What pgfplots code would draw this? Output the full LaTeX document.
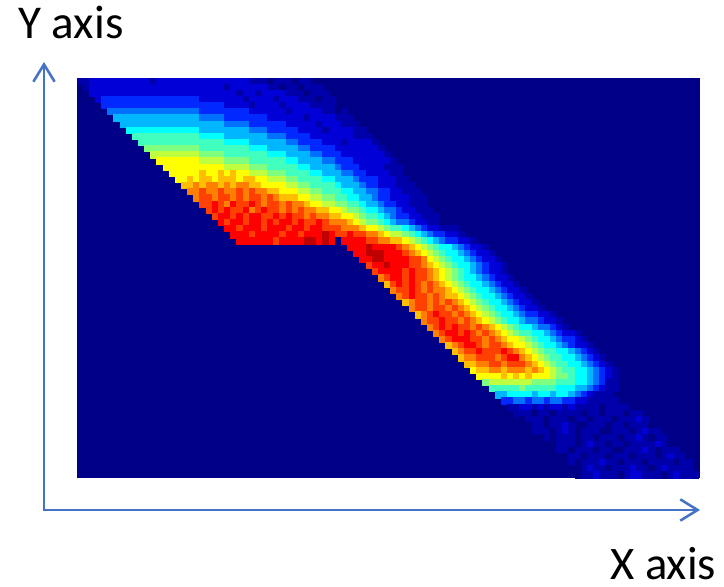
\documentclass[border=0pt]{standalone}
\usepackage{pgfplots}
\pgfplotsset{compat=1.18}
\usepackage{fontspec}
\setmainfont{Carlito}
\usetikzlibrary{arrows.meta}
\definecolor{axblue}{RGB}{68,114,196}
\definecolor{bgnavy}{RGB}{0,0,135}
\newcommand\R[3]{\addplot[cell] table[row sep=\\,header=false,x expr=\coordindex+#2,y expr=#1,meta index=0]{#3};}
\begin{document}
\begin{tikzpicture}[x=0.75pt,y=0.75pt]
\path[use as bounding box] (0,0) rectangle (724,586);
\begin{axis}[
  at={(57.75pt,81pt)},anchor=south west,
  scale only axis,width=467.25pt,height=300pt,
  xmin=-0.5,xmax=100.8,ymin=-0.5,ymax=64.5,y dir=reverse,
  ticks=none,axis line style={draw=none},
  axis background/.style={fill=bgnavy},
  clip marker paths=true,
  colormap={myjet}{rgb255(0)=(0,0,135) rgb255(1)=(0,0,170) rgb255(2)=(0,0,215) rgb255(3)=(0,40,255) rgb255(6)=(0,255,255) rgb255(10)=(255,255,0) rgb255(14)=(255,0,0) rgb255(16)=(128,0,0)},
  point meta min=0,point meta max=16,
  cell/.style={only marks,scatter,mark=square*,mark size=2.34pt,point meta=explicit,
    mark options={line width=0pt},
    scatter/use mapped color={draw=mapped color,fill=mapped color}},
]
\R{0}{0}{1\\1\\2\\2\\2\\2\\2\\2\\2\\2\\2\\2\\1\\2\\2\\2\\2\\2\\2\\2\\2\\2\\2\\2\\2\\2\\2\\2\\1\\1\\1\\0\\1\\1\\1\\0\\1\\1\\}
\R{1}{1}{1\\2\\2\\2\\2\\2\\2\\2\\2\\2\\2\\2\\2\\2\\2\\2\\2\\2\\2\\2\\2\\2\\2\\1\\2\\2\\2\\2\\2\\2\\1\\1\\0\\1\\1\\0\\1\\1\\1\\}
\R{2}{2}{2\\2\\2\\2\\2\\2\\2\\2\\2\\2\\2\\2\\2\\2\\2\\2\\2\\2\\2\\2\\2\\2\\2\\2\\1\\2\\2\\1\\2\\2\\2\\2\\1\\1\\1\\0\\1\\1\\1\\}
\R{3}{3}{2\\3\\3\\3\\3\\3\\3\\3\\3\\3\\3\\3\\3\\3\\3\\3\\3\\2\\2\\2\\2\\2\\2\\2\\1\\2\\2\\2\\2\\1\\2\\2\\2\\1\\1\\1\\0\\1\\1\\}
\R{4}{4}{3\\3\\3\\3\\3\\3\\3\\3\\3\\3\\3\\3\\3\\3\\3\\3\\3\\3\\3\\3\\2\\2\\2\\2\\1\\2\\2\\2\\2\\1\\2\\2\\2\\2\\1\\1\\1\\1\\0\\}
\R{5}{5}{4\\4\\4\\4\\4\\4\\4\\4\\4\\4\\4\\4\\4\\4\\4\\3\\3\\3\\3\\3\\3\\3\\3\\2\\2\\2\\2\\2\\2\\1\\2\\2\\2\\2\\2\\1\\1\\0\\1\\}
\R{6}{6}{5\\5\\5\\5\\5\\5\\5\\5\\5\\5\\5\\5\\5\\5\\4\\4\\4\\4\\3\\3\\3\\3\\3\\3\\3\\2\\2\\2\\2\\2\\2\\1\\2\\2\\2\\2\\1\\1\\1\\}
\R{7}{7}{5\\5\\5\\5\\5\\5\\5\\5\\5\\5\\5\\5\\5\\5\\5\\5\\5\\4\\4\\4\\4\\3\\3\\3\\3\\3\\3\\2\\2\\2\\2\\2\\1\\2\\2\\2\\1\\1\\1\\}
\R{8}{8}{6\\6\\6\\6\\6\\6\\6\\6\\6\\6\\6\\6\\5\\5\\5\\5\\5\\5\\5\\5\\4\\4\\4\\3\\3\\3\\3\\3\\2\\2\\2\\2\\1\\2\\2\\2\\2\\1\\1\\}
\R{9}{9}{7\\7\\7\\7\\7\\7\\7\\7\\7\\7\\7\\6\\6\\6\\6\\5\\5\\5\\5\\5\\5\\5\\4\\4\\4\\3\\3\\3\\3\\2\\2\\2\\2\\2\\2\\2\\1\\1\\1\\}
\R{10}{10}{7\\7\\7\\7\\7\\7\\7\\7\\7\\7\\7\\7\\7\\7\\6\\6\\6\\6\\5\\5\\5\\5\\5\\5\\4\\4\\3\\3\\3\\3\\2\\2\\2\\1\\2\\2\\2\\2\\1\\}
\R{11}{11}{8\\8\\8\\8\\8\\8\\8\\8\\8\\7\\7\\7\\7\\7\\7\\7\\7\\6\\6\\6\\5\\5\\5\\5\\5\\4\\4\\3\\3\\3\\3\\2\\2\\2\\2\\2\\2\\2\\1\\}
\R{12}{12}{9\\9\\9\\9\\9\\9\\9\\9\\8\\8\\8\\8\\7\\7\\7\\7\\7\\7\\7\\6\\6\\6\\5\\5\\5\\5\\4\\4\\3\\3\\3\\2\\2\\2\\2\\2\\2\\2\\1\\}
\R{13}{13}{10\\10\\10\\10\\10\\10\\10\\9\\9\\9\\9\\8\\8\\8\\8\\7\\7\\7\\7\\7\\7\\6\\6\\5\\5\\5\\5\\4\\4\\3\\3\\3\\2\\2\\2\\2\\2\\2\\1\\}
\R{14}{14}{10\\10\\10\\10\\10\\10\\10\\10\\10\\10\\9\\9\\9\\9\\8\\8\\8\\7\\7\\7\\7\\7\\6\\6\\5\\5\\5\\5\\4\\3\\3\\3\\2\\2\\2\\2\\1\\1\\1\\}
\R{15}{15}{10\\10\\10\\10\\10\\11\\10\\10\\11\\10\\11\\10\\10\\9\\9\\9\\8\\8\\8\\7\\7\\7\\7\\6\\6\\5\\5\\5\\4\\4\\3\\3\\2\\2\\2\\2\\1\\1\\}
\R{16}{16}{10\\10\\11\\10\\11\\11\\10\\11\\11\\11\\10\\11\\11\\10\\10\\9\\9\\9\\8\\8\\7\\7\\7\\7\\6\\6\\5\\5\\5\\4\\3\\3\\3\\2\\2\\2\\1\\1\\}
\R{17}{17}{11\\11\\12\\11\\12\\12\\11\\12\\11\\12\\12\\11\\11\\10\\10\\10\\10\\9\\9\\8\\8\\7\\7\\7\\7\\6\\5\\5\\5\\4\\3\\3\\2\\2\\2\\1\\1\\1\\}
\R{18}{18}{12\\12\\13\\12\\12\\13\\12\\12\\13\\12\\13\\12\\12\\11\\11\\10\\10\\10\\9\\9\\8\\8\\7\\7\\7\\6\\6\\5\\5\\4\\4\\3\\3\\2\\2\\1\\1\\1\\}
\R{19}{19}{12\\13\\13\\12\\13\\13\\12\\13\\12\\13\\13\\12\\13\\12\\11\\11\\11\\10\\10\\9\\9\\8\\8\\7\\7\\6\\6\\5\\5\\4\\3\\3\\2\\2\\2\\1\\1\\1\\}
\R{20}{20}{13\\13\\14\\13\\12\\14\\13\\13\\14\\13\\12\\13\\13\\12\\13\\12\\12\\11\\10\\10\\9\\9\\8\\8\\7\\7\\6\\5\\5\\4\\3\\3\\2\\2\\1\\1\\1\\}
\R{21}{21}{13\\14\\13\\14\\13\\13\\14\\12\\13\\14\\13\\13\\12\\13\\12\\13\\12\\12\\11\\11\\10\\10\\9\\8\\8\\7\\6\\6\\5\\4\\4\\3\\2\\2\\1\\1\\1\\}
\R{22}{22}{13\\14\\14\\13\\14\\13\\14\\14\\13\\13\\14\\13\\14\\13\\13\\12\\13\\12\\12\\11\\11\\10\\10\\9\\8\\7\\7\\6\\5\\4\\3\\3\\2\\2\\1\\1\\1\\}
\R{23}{23}{14\\13\\14\\14\\13\\14\\14\\13\\14\\13\\14\\14\\13\\14\\13\\13\\14\\13\\12\\12\\12\\11\\10\\9\\8\\8\\7\\6\\5\\4\\4\\3\\2\\2\\1\\1\\}
\R{24}{24}{14\\14\\13\\14\\14\\14\\13\\14\\14\\14\\13\\14\\14\\13\\14\\14\\13\\13\\13\\12\\12\\12\\11\\10\\10\\9\\8\\7\\7\\6\\5\\4\\3\\2\\2\\1\\1\\1\\}
\R{25}{25}{14\\14\\14\\13\\14\\14\\14\\14\\13\\14\\14\\13\\14\\14\\14\\15\\14\\13\\13\\14\\13\\13\\12\\12\\11\\10\\9\\9\\8\\7\\6\\5\\4\\3\\3\\2\\2\\1\\}
\R{26}{26}{14\\14\\14\\14\\14\\14\\13\\14\\14\\14\\14\\15\\15\\14\\15\\14\\0\\14\\14\\14\\14\\13\\13\\12\\12\\11\\11\\10\\9\\8\\7\\6\\5\\4\\3\\3\\2\\2\\1\\}
\R{27}{44}{14\\14\\14\\15\\14\\14\\14\\14\\13\\12\\11\\10\\9\\8\\7\\6\\6\\5\\4\\3\\2\\2\\1\\}
\R{28}{45}{14\\14\\15\\15\\15\\14\\14\\14\\13\\12\\11\\10\\9\\8\\7\\6\\6\\5\\4\\3\\2\\2\\1\\}
\R{29}{46}{14\\14\\15\\15\\14\\14\\14\\14\\13\\13\\12\\10\\9\\8\\7\\6\\6\\5\\4\\3\\2\\2\\1\\}
\R{30}{47}{13\\14\\14\\15\\14\\14\\14\\13\\13\\12\\11\\10\\9\\8\\7\\6\\6\\5\\4\\3\\2\\2\\1\\}
\R{31}{48}{13\\14\\14\\14\\14\\13\\14\\13\\13\\12\\11\\10\\9\\8\\7\\6\\5\\4\\3\\2\\2\\1\\}
\R{32}{49}{12\\13\\14\\14\\13\\14\\13\\13\\12\\11\\10\\9\\8\\7\\6\\6\\5\\4\\3\\2\\2\\1\\}
\R{33}{50}{11\\13\\14\\13\\14\\13\\12\\13\\12\\11\\10\\9\\8\\7\\6\\6\\5\\4\\3\\2\\2\\1\\}
\R{34}{51}{12\\13\\13\\14\\13\\12\\13\\12\\12\\11\\10\\9\\8\\7\\6\\6\\5\\4\\3\\2\\2\\1\\}
\R{35}{52}{12\\13\\14\\13\\13\\12\\13\\12\\11\\11\\10\\9\\8\\7\\6\\6\\5\\4\\3\\2\\2\\1\\}
\R{36}{53}{11\\12\\13\\13\\12\\13\\12\\13\\12\\11\\10\\9\\8\\7\\6\\6\\5\\4\\3\\2\\2\\1\\}
\R{37}{54}{12\\13\\13\\12\\13\\13\\12\\13\\12\\11\\10\\9\\8\\7\\6\\6\\5\\4\\3\\2\\2\\1\\}
\R{38}{55}{11\\12\\13\\14\\13\\13\\12\\13\\12\\11\\10\\9\\8\\7\\6\\6\\5\\4\\3\\3\\2\\2\\1\\}
\R{39}{56}{12\\13\\13\\14\\13\\13\\12\\13\\12\\11\\10\\9\\8\\7\\6\\6\\5\\4\\4\\3\\2\\2\\1\\}
\R{40}{57}{12\\13\\14\\13\\14\\13\\13\\12\\13\\12\\11\\10\\9\\8\\7\\6\\6\\5\\4\\4\\3\\2\\1\\}
\R{41}{58}{12\\13\\14\\14\\13\\14\\13\\12\\13\\12\\11\\10\\9\\8\\7\\7\\6\\6\\5\\4\\3\\2\\2\\1\\}
\R{42}{59}{12\\13\\14\\14\\14\\13\\13\\12\\13\\12\\11\\10\\10\\9\\8\\7\\6\\6\\5\\4\\3\\3\\2\\1\\}
\R{43}{60}{11\\12\\13\\14\\14\\13\\12\\13\\13\\12\\11\\10\\10\\9\\8\\7\\6\\6\\5\\4\\3\\2\\2\\1\\}
\R{44}{61}{11\\12\\13\\13\\14\\13\\13\\13\\14\\13\\12\\11\\10\\9\\8\\7\\7\\6\\6\\5\\4\\3\\2\\1\\}
\R{45}{62}{11\\12\\12\\13\\13\\13\\12\\13\\14\\14\\12\\11\\10\\9\\8\\7\\7\\6\\6\\5\\4\\3\\2\\1\\}
\R{46}{63}{11\\11\\12\\12\\13\\13\\12\\13\\13\\13\\12\\11\\10\\9\\8\\7\\7\\6\\6\\5\\4\\3\\2\\1\\}
\R{47}{64}{10\\11\\11\\12\\12\\11\\12\\12\\12\\11\\12\\11\\10\\9\\8\\7\\7\\6\\6\\5\\4\\3\\2\\1\\}
\R{48}{65}{10\\10\\10\\10\\11\\10\\11\\10\\11\\10\\10\\10\\9\\8\\8\\7\\6\\6\\5\\4\\3\\2\\1\\}
\R{49}{66}{8\\9\\9\\9\\9\\9\\9\\9\\8\\8\\8\\8\\7\\7\\7\\6\\6\\5\\4\\3\\1\\1\\}
\R{50}{67}{7\\7\\7\\7\\7\\8\\7\\7\\7\\7\\7\\6\\6\\6\\5\\5\\4\\3\\2\\1\\1\\}
\R{51}{68}{5\\5\\6\\6\\6\\6\\5\\6\\6\\5\\6\\6\\5\\4\\3\\2\\1\\1\\1\\}
\R{52}{69}{3\\3\\4\\4\\3\\4\\4\\3\\4\\4\\3\\3\\2\\2\\1\\1\\1\\1\\1\\}
\R{53}{70}{1\\1\\2\\2\\1\\2\\1\\2\\2\\1\\2\\1\\1\\1\\1\\0\\1\\1\\1\\1\\0\\}
\R{54}{71}{1\\1\\1\\0\\1\\1\\0\\1\\1\\1\\1\\0\\1\\1\\0\\1\\1\\1\\0\\1\\1\\}
\R{55}{72}{0\\1\\1\\1\\0\\1\\1\\1\\0\\1\\1\\0\\1\\1\\1\\0\\1\\1\\1\\2\\1\\}
\R{56}{73}{0\\1\\1\\0\\1\\1\\2\\1\\0\\0\\1\\1\\1\\0\\1\\1\\0\\1\\1\\1\\0\\}
\R{57}{74}{1\\1\\1\\0\\1\\2\\1\\0\\1\\1\\1\\0\\0\\1\\1\\1\\0\\1\\2\\1\\1\\}
\R{58}{75}{0\\1\\0\\1\\1\\1\\0\\1\\1\\0\\1\\1\\1\\0\\1\\1\\2\\1\\0\\1\\1\\}
\R{59}{76}{0\\0\\1\\1\\1\\0\\1\\2\\1\\1\\0\\1\\1\\0\\1\\1\\1\\1\\2\\1\\0\\}
\R{60}{77}{0\\1\\1\\0\\1\\1\\1\\0\\1\\1\\0\\0\\1\\1\\1\\2\\1\\0\\1\\1\\1\\}
\R{61}{78}{0\\0\\1\\1\\0\\1\\1\\1\\0\\1\\1\\1\\0\\1\\1\\1\\0\\1\\2\\1\\1\\}
\R{62}{79}{0\\1\\0\\1\\1\\1\\2\\1\\1\\0\\1\\1\\1\\0\\1\\1\\1\\1\\0\\1\\1\\}
\R{63}{80}{0\\0\\1\\2\\1\\1\\0\\1\\1\\1\\2\\1\\1\\0\\1\\2\\1\\1\\1\\1\\}
\R{64}{81}{0\\1\\1\\2\\1\\1\\1\\0\\1\\2\\2\\1\\1\\1\\0\\1\\2\\1\\1\\1\\}
\end{axis}
\draw[axblue,line width=1.9pt,{Straight Barb[length=13pt,width=16pt,line width=1.9pt]}-{Straight Barb[length=13pt,width=16pt,line width=1.9pt]}] (44,524) -- (44,76) -- (700,76);
\node[anchor=base west,inner sep=0pt,font=\fontsize{35.3}{40}\selectfont] at (18,547.5) {Y axis};
\node[anchor=base west,inner sep=0pt,font=\fontsize{35}{40}\selectfont] at (610,6.5) {X axis};
\end{tikzpicture}
\end{document}
